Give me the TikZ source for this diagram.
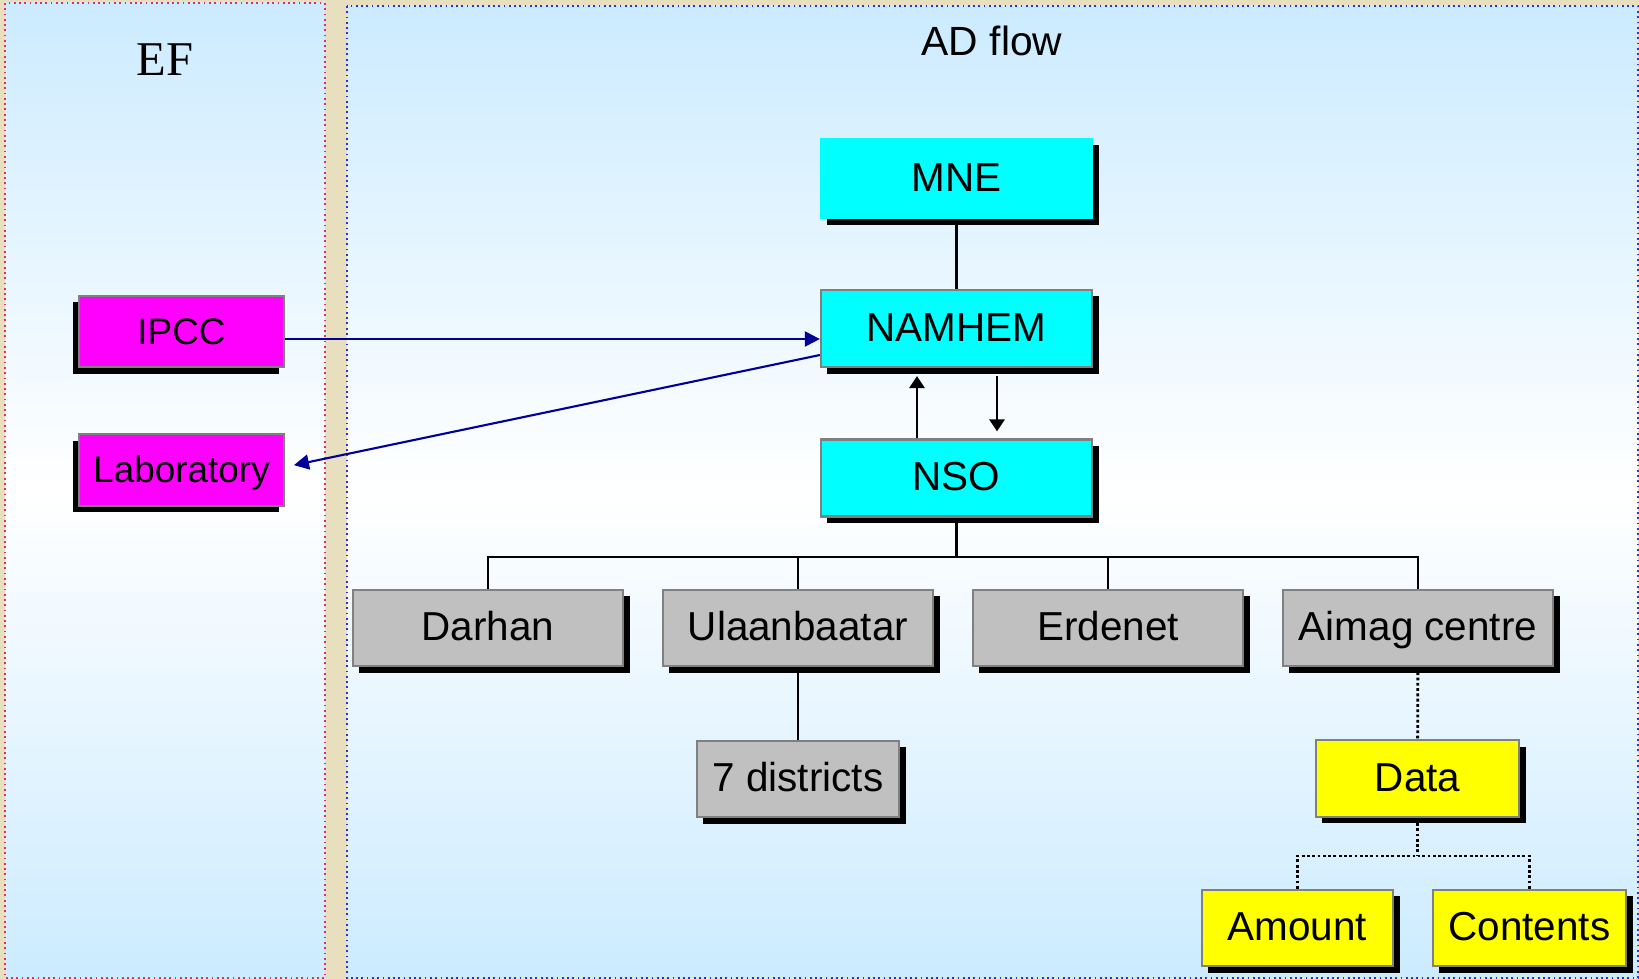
\documentclass[tikz,border=0pt]{standalone}
\usepackage{fontspec}
\setmainfont{Liberation Serif}
\setsansfont{Liberation Sans}
\usepackage{tikz}
\usetikzlibrary{arrows.meta,shadows}

\definecolor{paper}{RGB}{232,223,190}
\definecolor{sky}{RGB}{204,235,255}
\definecolor{efline}{RGB}{235,40,110}
\definecolor{adline}{RGB}{45,45,250}
\definecolor{arrowblue}{RGB}{0,0,153}
\definecolor{officecol}{RGB}{0,255,255}
\definecolor{sourcecol}{RGB}{255,0,255}
\definecolor{itemcol}{RGB}{255,255,0}
\definecolor{citycol}{RGB}{192,192,192}

\begin{document}
\begin{tikzpicture}[x=0.01cm,y=-0.01cm,
	box/.style={draw=black!50,line width=0.6pt,font=\sffamily\fontsize{11.5}{13}\selectfont,text height=0.716em,text depth=0pt,inner sep=0pt,minimum height=0.77cm},
	rshadow/.style={drop shadow={shadow xshift=0.065cm,shadow yshift=-0.065cm,fill=black,opacity=1}},
	lshadow/.style={drop shadow={shadow xshift=-0.055cm,shadow yshift=-0.065cm,fill=black,opacity=1}},
	office/.style={box,rshadow,fill=officecol,minimum width=2.71cm},
	source/.style={box,lshadow,fill=sourcecol,minimum width=2.05cm,minimum height=0.715cm,font=\sffamily\fontsize{10.5}{12}\selectfont},
	city/.style={box,rshadow,fill=citycol,minimum width=2.7cm,minimum height=0.76cm},
	item/.style={box,rshadow,fill=itemcol,minimum height=0.765cm},
	link/.style={line width=0.8pt},
	arr/.style={link,-{Triangle[length=0.12cm,width=0.15cm]}},
	flow/.style={draw=arrowblue,line width=0.6pt,-{Triangle[length=0.15cm,width=0.15cm]}},
	dotline/.style={line width=0.8pt,dash pattern=on 0.8pt off 0.7pt}]
	\useasboundingbox (0,0) rectangle (1639,979);
	\fill[paper] (0,0) rectangle (1639,979);
	\shade[top color=sky,bottom color=sky,middle color=white] (5,3) rectangle (325,978);
	\draw[efline,densely dotted,line width=0.5pt] (5,3) rectangle (325,978);
	\shade[top color=sky,bottom color=sky,middle color=white] (347,6) rectangle (1638,978);
	\draw[adline,densely dotted,line width=0.5pt] (347,6) rectangle (1638,978);
	\node[font=\fontsize{13.8}{16}\selectfont,anchor=base] (eftitle) at (165,76) {EF};
	\node[font=\sffamily\fontsize{11.6}{14}\selectfont,anchor=base] (adtitle) at (992,56) {AD flow};

	\node[office,draw=officecol,minimum height=0.79cm] (mne) at (956.5,178.5) {MNE};
	\node[office] (namhem) at (956.5,328.5) {NAMHEM};
	\node[office] (nso) at (956.5,478) {NSO};
	\node[source] (ipcc) at (181.5,331.5) {IPCC};
	\node[source] (lab) at (181.5,470) {Laboratory};
	\node[city] (darhan) at (488,628) {Darhan};
	\node[city] (ulaan) at (798,628) {Ulaanbaatar};
	\node[city] (erdenet) at (1108,628) {Erdenet};
	\node[city] (aimag) at (1418,628) {Aimag centre};
	\node[city,minimum width=2.02cm] (districts) at (798,779) {7 districts};
	\node[item,minimum width=2.03cm] (data) at (1417.5,778.5) {Data};
	\node[item,minimum width=1.91cm] (amount) at (1297.5,928) {Amount};
	\node[item,minimum width=1.93cm] (contents) at (1529.5,928) {Contents};
	\coordinate (bus) at (956.5,557);
	\coordinate (split) at (1417.5,856);

	\draw[link] (mne) -- (namhem);
	\draw[arr,shorten >=0.08cm] ([xshift=-0.395cm]nso.north) -- ([xshift=-0.395cm]namhem.south);
	\draw[arr,shorten <=0.08cm,shorten >=0.07cm] ([xshift=0.405cm]namhem.south) -- ([xshift=0.405cm]nso.north);
	\draw[flow] ([yshift=-0.075cm]ipcc.east) -- ([yshift=-0.075cm]ipcc.east -| namhem.west);
	\draw[flow,shorten >=0.09cm] ([yshift=-0.265cm]namhem.west) -- ([yshift=0.03cm]lab.east);
	\draw[link] (nso) -- (bus);
	\foreach \town in {darhan,ulaan,erdenet,aimag}
		\draw[link] (\town.north) |- (bus);
	\draw[link] (ulaan) -- (districts);
	\draw[dotline] (aimag) -- (data);
	\draw[dotline] (data) -- (split);
	\draw[dotline] (amount.north) |- (split);
	\draw[dotline] (contents.north) |- (split);
\end{tikzpicture}
\end{document}
